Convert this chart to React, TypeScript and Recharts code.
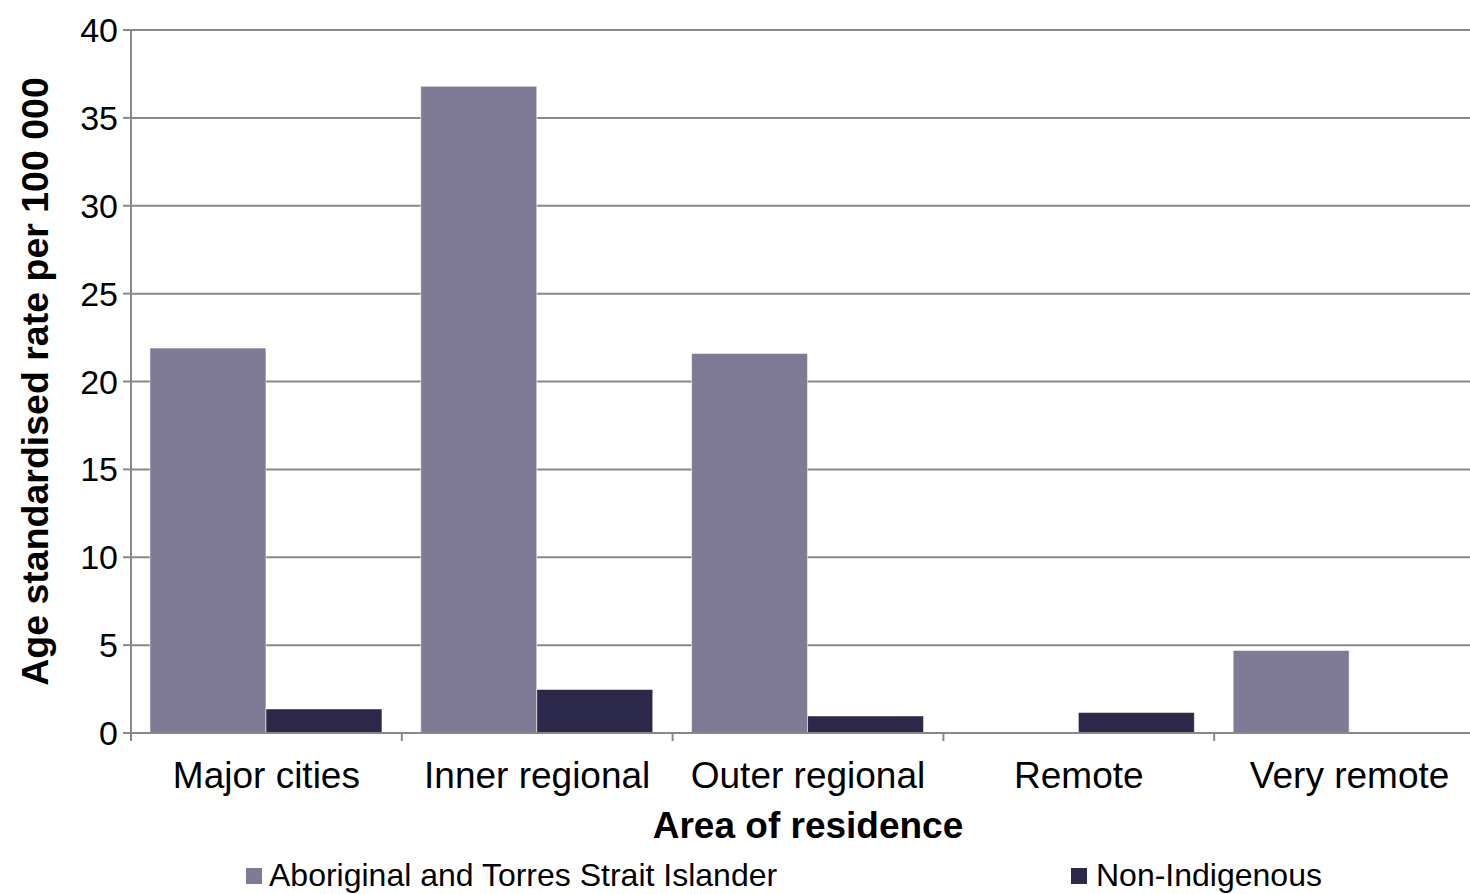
import React from 'react';
import { BarChart, Bar, XAxis, YAxis, CartesianGrid, Legend } from 'recharts';

// Age standardised rate per 100 000, by area of residence
const areas = ['Major cities', 'Inner regional', 'Outer regional', 'Remote', 'Very remote'];
const indigenousRates: (number | null)[] = [21.9, 36.8, 21.6, null, 4.7];
const nonIndigenousRates: (number | null)[] = [1.37, 2.48, 0.97, 1.17, null];
const yTicks = [0, 5, 10, 15, 20, 25, 30, 35, 40];
const seriesNames = ['Aboriginal and Torres Strait Islander', 'Non-Indigenous'];
const seriesColors = ['#7f7b96', '#2c2849'];

const data = areas.map((area, i) => ({
  area,
  indigenous: indigenousRates[i],
  nonIndigenous: nonIndigenousRates[i],
}));

const FONT = '"Liberation Sans", Arial, Helvetica, sans-serif';
const AXIS_GREY = '#888888';

const CHART_W = 1500;
const CHART_H = 894;
const MARGIN = { top: 30, right: 15, bottom: 0, left: 0 };
const Y_AXIS_W = 131;
const LEGEND_H = 40;
const X_AXIS_H = 121;
const BAND = (CHART_W - MARGIN.left - MARGIN.right - Y_AXIS_W) / areas.length;
const TICK_LEN = 8;

// Category label centred in its band, with tick marks on the band boundaries
const CategoryTick = (props: any) => {
  const { x, y, payload, index } = props;
  const axisY = y - TICK_LEN;
  const left = x - BAND / 2;
  const right = x + BAND / 2;
  return (
    <g>
      <line x1={left} y1={axisY} x2={left} y2={axisY + TICK_LEN} stroke={AXIS_GREY} strokeWidth={2} />
      {index === areas.length - 1 && (
        <line x1={right} y1={axisY} x2={right} y2={axisY + TICK_LEN} stroke={AXIS_GREY} strokeWidth={2} />
      )}
      <text x={x} y={y + 47} textAnchor="middle" fontSize={37} fontFamily={FONT} fill="#000">
        {payload.value}
      </text>
    </g>
  );
};

const legendLeft = [246, 1071];

const LegendContent = () => (
  <div style={{ position: 'relative', width: 1470, height: LEGEND_H, fontFamily: FONT }}>
    {seriesNames.map((name, i) => (
      <div
        key={name}
        style={{
          position: 'absolute',
          left: legendLeft[i],
          top: 5,
          display: 'flex',
          alignItems: 'flex-start',
          fontSize: 32,
          lineHeight: '32px',
          color: '#000',
          whiteSpace: 'nowrap',
        }}
      >
        <span
          style={{
            display: 'inline-block',
            width: 16,
            height: 16,
            marginTop: 9,
            background: seriesColors[i],
            marginRight: i === 0 ? 7 : 9,
          }}
        />
        {name}
      </div>
    ))}
  </div>
);

export default function App() {
  return (
    <div
      style={{
        position: 'absolute',
        left: 0,
        top: 0,
        width: 1470,
        height: 894,
        overflow: 'hidden',
        background: '#fff',
      }}
    >
      <BarChart
        width={CHART_W}
        height={CHART_H}
        data={data}
        margin={MARGIN}
        barCategoryGap="7%"
        barGap={0}
      >
        <CartesianGrid horizontal vertical={false} stroke={AXIS_GREY} strokeWidth={2} />
        <XAxis
          dataKey="area"
          height={X_AXIS_H}
          axisLine={{ stroke: AXIS_GREY, strokeWidth: 2 }}
          tickLine={false}
          tickSize={TICK_LEN}
          tickMargin={0}
          interval={0}
          tick={<CategoryTick />}
          label={{
            value: 'Area of residence',
            position: 'insideBottom',
            offset: 16,
            style: { fontSize: 37, fontWeight: 'bold', fontFamily: FONT, fill: '#000' },
          }}
        />
        <YAxis
          width={Y_AXIS_W}
          domain={[0, 40]}
          ticks={yTicks}
          interval={0}
          axisLine={{ stroke: AXIS_GREY, strokeWidth: 2 }}
          tickLine={{ stroke: AXIS_GREY, strokeWidth: 2 }}
          tickSize={TICK_LEN}
          tickMargin={5}
          tick={{ fontSize: 34, fontFamily: FONT, fill: '#000' }}
          label={{
            value: 'Age standardised rate per 100 000',
            angle: -90,
            position: 'insideLeft',
            offset: 35,
            style: { fontSize: 37.5, fontWeight: 'bold', fontFamily: FONT, fill: '#000', textAnchor: 'middle' },
          }}
        />
        <Legend
          verticalAlign="bottom"
          height={LEGEND_H}
          wrapperStyle={{ left: 0, bottom: 0, width: 1470, height: LEGEND_H }}
          content={<LegendContent />}
        />
        <Bar
          dataKey="indigenous"
          name={seriesNames[0]}
          fill={seriesColors[0]}
          stroke="#ffffff"
          strokeOpacity={0.55}
          strokeWidth={1}
          isAnimationActive={false}
        />
        <Bar
          dataKey="nonIndigenous"
          name={seriesNames[1]}
          fill={seriesColors[1]}
          stroke="#ffffff"
          strokeOpacity={0.55}
          strokeWidth={1}
          isAnimationActive={false}
        />
      </BarChart>
    </div>
  );
}
